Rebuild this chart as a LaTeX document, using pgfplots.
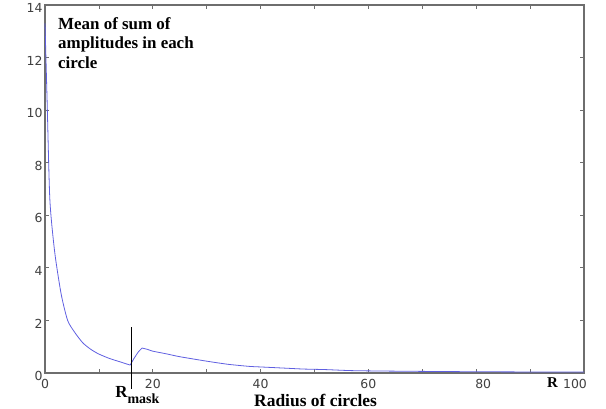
\documentclass[border=0pt]{standalone}
\usepackage{pgfplots}
\pgfplotsset{compat=1.18}
\usepackage{fontspec}
\setmainfont{Liberation Serif}
\newfontfamily\tickfont{DejaVu Sans}
\definecolor{curve}{RGB}{95,95,225}
\definecolor{axgray}{RGB}{110,110,110}
\begin{document}
\begin{tikzpicture}
\begin{axis}[
  scale only axis,
  width=539bp, height=368bp,
  xmin=0, xmax=100, ymin=0, ymax=14,
  xtick={0,10,...,100},
  xticklabels={0,,20,,40,,60,,\hspace*{14bp}80,,\hspace*{-18bp}100},
  ytick={0,2,...,14},
  tick align=inside,
  major tick length=4bp,
  axis line style={axgray, line width=1.3bp},
  every tick/.style={axgray, line width=0.8bp},
  /pgf/number format/assume math mode=true,
  ticklabel style={font=\tickfont\fontsize{12.5}{12.5}\selectfont, text=black!75},
  xticklabel style={yshift=-3bp},
  yticklabel style={yshift=-3bp, xshift=1bp},
  clip=false,
]
\addplot[curve, line width=0.8bp, smooth, tension=0.4] coordinates {
(0,13.3) (0.4,10.3) (0.9,6.6) (1.8,4.6) (3,3.0) (4.2,2.0) (5.5,1.55) (7,1.15)
(8.5,0.9) (10,0.72) (12,0.55) (14,0.42) (15.8,0.3)
};
\addplot[curve, line width=0.8bp] coordinates {
(15.8,0.3) (16.5,0.55) (17.3,0.8) (18,0.95)
};
\addplot[curve, line width=0.8bp, smooth, tension=0.4] coordinates {
(18,0.95) (19,0.9) (20,0.83) (22.5,0.73) (25,0.62) (30,0.45) (34,0.33)
(38,0.25) (40,0.23) (45,0.18) (48,0.15) (52,0.13) (57,0.09) (65,0.07)
(78,0.05) (90,0.04) (100,0.04)
};
\addplot[black, line width=1bp] coordinates {(16,-0.6) (16,1.75)};
\node[anchor=north west, inner sep=0pt, align=left,
      font=\bfseries\fontsize{17}{19.5}\selectfont]
  at (rel axis cs:0.0241,0.967)
  {Mean of sum of\\amplitudes in each\\circle};
\node[anchor=north west, inner sep=0pt, font=\bfseries\fontsize{17}{17}\selectfont]
  at (axis cs:13.0,-0.5)
  {R\raisebox{-6bp}{\fontsize{14}{14}\selectfont mask}};
\node[anchor=north west, inner sep=0pt, font=\bfseries\fontsize{15}{15}\selectfont]
  at (axis cs:93.1,-0.19) {R};
\node[anchor=north, inner sep=0pt, font=\bfseries\fontsize{17.5}{17.5}\selectfont]
  at (axis cs:50.2,-0.8) {Radius of circles};
\end{axis}
\pgfresetboundingbox
\path[use as bounding box] (-45bp,-36bp) rectangle (561bp,373bp);
\end{tikzpicture}
\end{document}
